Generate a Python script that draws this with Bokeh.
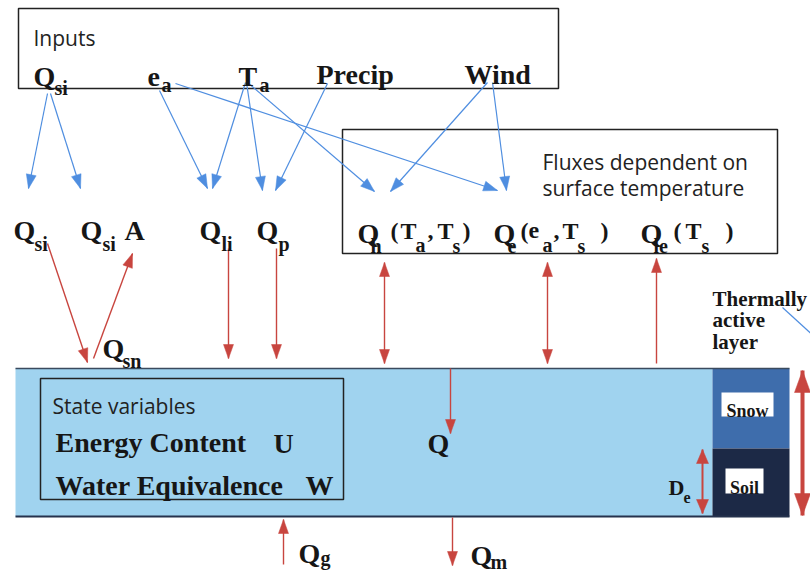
import math
from bokeh.plotting import figure
from bokeh.models import Range1d, ColumnDataSource
from bokeh.core.properties import value
from bokeh.embed import file_html
from bokeh.resources import INLINE

# ---------------- labels (data) ----------------
sans_labels = ["Inputs", "Fluxes dependent on", "surface temperature", "State variables"]
sans_x = [33, 542, 542, 52]
sans_y = [37, 161, 187, 405]

main_labels = ["Q", "e", "T", "Precip", "Wind",
               "Q", "Q", "A", "Q", "Q",
               "Q", "Q", "Q",
               "Q", "Q", "Q", "Q"]
main_x = [33, 147, 238, 316, 464,
          13, 80, 124, 199, 256,
          357, 493, 640,
          427, 102, 298, 470]
main_y = [76, 76, 76, 74, 74,
          230, 230, 230, 230, 230,
          233, 233, 233,
          443, 348, 553, 555]

paren_labels = ["(", "T", ",", "T", ")",
                "(", "e", ",", "T", ")",
                "(", "T", ")"]
paren_x = [390, 400, 427, 437, 462,
           520, 528, 553, 562, 600,
           673, 685, 725]
paren_y = [230] * 13

sub_labels = ["si", "a", "a",
              "si", "si", "li", "p",
              "h", "a", "s", "e", "a", "s", "le", "s",
              "sn", "g", "m"]
sub_x = [54, 161, 259,
         34, 102, 221, 278,
         370, 415, 452, 507, 542, 577, 653, 701,
         122, 320, 490]
sub_y = [87, 84, 84,
         243, 243, 243, 243,
         245, 244, 245, 245, 244, 245, 245, 245,
         360, 557, 561]

state_labels = ["Energy Content", "U", "Water Equivalence", "W"]
state_x = [55, 273, 55, 305]
state_y = [442, 443, 485, 485]

layer_labels = ["Thermally", "active", "layer"]
layer_x = [712, 712, 712]
layer_y = [298, 319, 341]

column_labels = ["Snow", "Soil"]
column_x = [747, 744]
column_y = [410, 487]

de_main, de_sub = ["D"], ["e"]

# ---------------- boxes / regions ----------------
frame_boxes = dict(left=[18, 342, 40], right=[558, 777, 343],
                   top=[8, 129, 378], bottom=[88, 253, 499])
layer_regions = dict(left=[15, 712, 712], right=[712, 789, 789],
                     top=[368, 368, 448], bottom=[516, 448, 516],
                     color=["#a0d3ef", "#3e6dac", "#1c2946"])
label_boxes = dict(left=[721, 725], right=[773, 763], top=[392, 468], bottom=[416, 493])

# ---------------- arrows (x0, y0, x1, y1) ----------------
blue_arrows = [(47, 93, 28, 188), (50, 93, 80, 188), (159, 90, 207, 188),
               (245, 82, 212, 188), (246, 82, 262, 190), (247, 82, 374, 191),
               (175, 83, 497, 190), (327, 83, 275, 190), (487, 82, 390, 191),
               (492, 82, 506, 190)]
red_single = [(47, 243, 87, 362), (93, 358, 132, 253), (228, 248, 228, 358),
              (276, 248, 276, 358), (656, 363, 656, 258), (450, 368, 450, 433),
              (283, 564, 283, 519), (452, 517, 452, 565)]
red_double = [(384, 262, 384, 363), (547, 262, 547, 363)]
de_arrow = [(702, 449, 702, 513)]
thick_arrow = [(802, 370, 802, 515)]
pointer_line = [(782, 307, 840, 360)]

BLUE = "#4f8ee0"
RED = "#c8453f"
INK = "#161616"
SERIF = "Liberation Serif"

W, H = 810, 571
p = figure(width=W, height=H, x_range=Range1d(0, W), y_range=Range1d(H, 0),
           output_backend="svg", toolbar_location=None, min_border=0)
p.axis.visible = False
p.grid.visible = False
p.outline_line_color = None
p.background_fill_color = "white"
p.border_fill_color = "white"

# layer bar
p.quad(source=ColumnDataSource(layer_regions), left="left", right="right", top="top",
       bottom="bottom", fill_color="color", line_color=None)
p.segment(x0=[15, 15], y0=[368, 516], x1=[789, 789], y1=[368, 516],
          line_color=["#3a4a5e", "#25324d"], line_width=[1.5, 2])
p.quad(source=ColumnDataSource(label_boxes), left="left", right="right", top="top",
       bottom="bottom", fill_color="white", line_color=None)
p.quad(source=ColumnDataSource(frame_boxes), left="left", right="right", top="top",
       bottom="bottom", fill_color=None, line_color="#222222", line_width=1.5)


def heads(arrows, length, width, at_start=False):
    xs, ys = [], []
    for (x0, y0, x1, y1) in arrows:
        tx, ty, sx, sy = (x0, y0, x1, y1) if at_start else (x1, y1, x0, y0)
        d = math.hypot(tx - sx, ty - sy)
        ux, uy = (tx - sx) / d, (ty - sy) / d
        bx, by = tx - ux * length, ty - uy * length
        nx, ny = -uy * width / 2, ux * width / 2
        xs.append([tx, bx + nx, bx - nx])
        ys.append([ty, by + ny, by - ny])
    return xs, ys


def draw(arrows, color, lw, length, width, start=False, end=True):
    p.segment(x0=[a[0] for a in arrows], y0=[a[1] for a in arrows],
              x1=[a[2] for a in arrows], y1=[a[3] for a in arrows],
              line_color=color, line_width=lw)
    if end:
        xs, ys = heads(arrows, length, width)
        p.patches(xs, ys, fill_color=color, line_color=color, line_width=0.5)
    if start:
        xs, ys = heads(arrows, length, width, at_start=True)
        p.patches(xs, ys, fill_color=color, line_color=color, line_width=0.5)


draw(blue_arrows, BLUE, 1.2, 14, 10)
draw(pointer_line, BLUE, 1.2, 0, 0, end=False)
draw(red_single, RED, 1.4, 14, 10)
draw(red_double, RED, 1.4, 14, 10, start=True)
draw(de_arrow, RED, 2, 14, 12, start=True)
draw(thick_arrow, RED, 4, 22, 16, start=True)


def txt(xs, ys, texts, size, font=SERIF, style="bold", color=INK, align="left"):
    src = ColumnDataSource(dict(x=xs, y=ys, text=texts))
    p.text(x="x", y="y", text="text", source=src, text_font=value(font),
           text_font_style=style, text_font_size=size, text_color=color,
           text_baseline="alphabetic", text_align=align)


txt(sans_x, sans_y, sans_labels, "21px", font="Open Sans", style="normal", color="#222222")
txt(main_x, main_y, main_labels, "28px")
txt(paren_x, paren_y, paren_labels, "24px")
txt(sub_x, sub_y, sub_labels, "20px")
txt(state_x, state_y, state_labels, "28px")
txt(layer_x, layer_y, layer_labels, "21px")
txt(column_x, column_y, column_labels, "18px", align="center")
txt([668], [487], de_main, "22px")
txt([683], [497], de_sub, "16px")

open("out.html", "w").write(file_html(p, INLINE))
